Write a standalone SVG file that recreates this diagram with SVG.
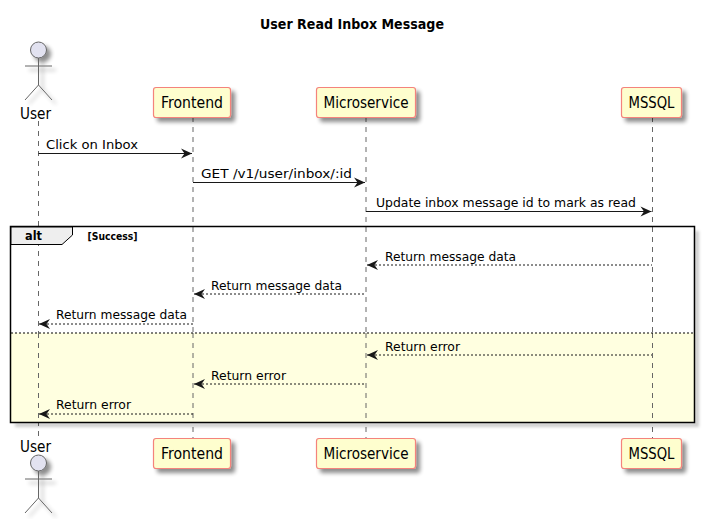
<svg xmlns="http://www.w3.org/2000/svg" width="705" height="519" viewBox="0 0 705 519">
<style>
text{font-family:"DejaVu Sans","Liberation Sans",sans-serif;fill:#000}
.m{font-size:13px}
.p{font-size:15px}
.box{fill:#FEFECE;stroke:#F4837B;stroke-width:1.2}
.act{fill:none;stroke:#666;stroke-width:1}
.life{stroke:#666;stroke-width:1;stroke-dasharray:5 5;fill:none}
.s{stroke:#181818;stroke-width:1;fill:none}
.d{stroke:#181818;stroke-width:1;stroke-dasharray:2 2;fill:none}
</style>
<defs>
<filter id="sh" x="-30%" y="-30%" width="170%" height="170%"><feGaussianBlur in="SourceAlpha" stdDeviation="2"/><feOffset dx="4" dy="4"/><feComponentTransfer><feFuncA type="linear" slope="0.45"/></feComponentTransfer><feMerge><feMergeNode/><feMergeNode in="SourceGraphic"/></feMerge></filter>
<filter id="fs" x="-5%" y="-5%" width="110%" height="110%"><feGaussianBlur stdDeviation="1.500"/></filter>
<marker id="ar" markerUnits="userSpaceOnUse" markerWidth="14" markerHeight="12" refX="12" refY="6" orient="auto"><path d="M1 1 L12 6 L1 11 L4.500 6Z" fill="#181818"/></marker>
<marker id="al" markerUnits="userSpaceOnUse" markerWidth="14" markerHeight="12" refX="1" refY="6" orient="auto"><path d="M12 1 L1 6 L12 11 L8.500 6Z" fill="#181818"/></marker>
</defs>
<text x="352" y="29" text-anchor="middle" font-size="14" font-weight="bold" textLength="184" lengthAdjust="spacingAndGlyphs">User Read Inbox Message</text>
<g id="lifelines">
<path class="life" d="M38.500 121V438"/>
<path class="life" d="M193 117V438"/>
<path class="life" d="M366 117V438"/>
<path class="life" d="M652.500 117V438"/>
</g>
<g id="alt-frame">
<path d="M15 427H699V231H695V423H15Z" fill="#000" fill-opacity="0.2" filter="url(#fs)"/>
<rect x="11" y="333" width="683" height="89" fill="#FFFFE0"/>
<path class="life" d="M38.500 333V422M193 333V422M366 333V422M652.500 333V422"/>
<rect x="10.500" y="226.500" width="684" height="196" fill="none" stroke="#000" stroke-width="1.500"/>
<path d="M11 227H72.500V235L62 244.500H11Z" fill="#EEE" stroke="#000" stroke-width="1"/>
<text x="25" y="240" font-size="13" font-weight="bold" textLength="17" lengthAdjust="spacingAndGlyphs">alt</text>
<text x="87.500" y="240" font-size="10" font-weight="bold" textLength="50" lengthAdjust="spacingAndGlyphs">[Success]</text>
<path d="M11 333H694" stroke="#000" stroke-width="1" stroke-dasharray="2 2"/>
</g>
<g id="connectors">
<path class="s" marker-end="url(#ar)" d="M38.500 153.500H192"/>
<text class="m" x="46" y="149" textLength="92" lengthAdjust="spacingAndGlyphs">Click on Inbox</text>
<path class="s" marker-end="url(#ar)" d="M193 182.500H365"/>
<text class="m" x="201" y="178" textLength="151" lengthAdjust="spacingAndGlyphs">GET /v1/user/inbox/:id</text>
<path class="s" marker-end="url(#ar)" d="M366 211.500H651.500"/>
<text class="m" x="376" y="207" textLength="260" lengthAdjust="spacingAndGlyphs">Update inbox message id to mark as read</text>
<path class="d" marker-start="url(#al)" d="M367 265H652"/>
<text class="m" x="385" y="261" textLength="131" lengthAdjust="spacingAndGlyphs">Return message data</text>
<path class="d" marker-start="url(#al)" d="M194 294H366"/>
<text class="m" x="211" y="290" textLength="131" lengthAdjust="spacingAndGlyphs">Return message data</text>
<path class="d" marker-start="url(#al)" d="M39 324H193"/>
<text class="m" x="56" y="319" textLength="131" lengthAdjust="spacingAndGlyphs">Return message data</text>
<path class="d" marker-start="url(#al)" d="M367 355H652"/>
<text class="m" x="385" y="351" textLength="75" lengthAdjust="spacingAndGlyphs">Return error</text>
<path class="d" marker-start="url(#al)" d="M194 384H366"/>
<text class="m" x="211" y="380" textLength="75" lengthAdjust="spacingAndGlyphs">Return error</text>
<path class="d" marker-start="url(#al)" d="M39 414H193"/>
<text class="m" x="56" y="409" textLength="75" lengthAdjust="spacingAndGlyphs">Return error</text>
</g>
<g id="user-top">
<g filter="url(#sh)"><circle cx="38.500" cy="50" r="8" fill="#E2E2F0" stroke="#666"/><path class="act" d="M38.500 58V85M25 66H52M38.500 85L25 100M38.500 85L52 100"/></g>
<text class="p" x="20" y="119" textLength="31" lengthAdjust="spacingAndGlyphs">User</text>
</g>
<g id="frontend-top">
<rect class="box" x="153.500" y="87.500" width="77" height="30" rx="2.500" filter="url(#sh)"/>
<text class="p" x="161" y="108" textLength="62" lengthAdjust="spacingAndGlyphs">Frontend</text>
</g>
<g id="microservice-top">
<rect class="box" x="316.500" y="87.500" width="99" height="30" rx="2.500" filter="url(#sh)"/>
<text class="p" x="323.500" y="108" textLength="85" lengthAdjust="spacingAndGlyphs">Microservice</text>
</g>
<g id="mssql-top">
<rect class="box" x="621.500" y="87.500" width="60" height="30" rx="2.500" filter="url(#sh)"/>
<text class="p" x="628.500" y="108" textLength="46" lengthAdjust="spacingAndGlyphs">MSSQL</text>
</g>
<g id="user-bottom">
<text class="p" x="20" y="452" textLength="31" lengthAdjust="spacingAndGlyphs">User</text>
<g filter="url(#sh)"><circle cx="38.500" cy="463" r="8" fill="#E2E2F0" stroke="#666"/><path class="act" d="M38.500 471V498M25 479H52M38.500 498L25 513M38.500 498L52 513"/></g>
</g>
<g id="frontend-bottom">
<rect class="box" x="153.500" y="438.500" width="77" height="30" rx="2.500" filter="url(#sh)"/>
<text class="p" x="161" y="459" textLength="62" lengthAdjust="spacingAndGlyphs">Frontend</text>
</g>
<g id="microservice-bottom">
<rect class="box" x="316.500" y="438.500" width="99" height="30" rx="2.500" filter="url(#sh)"/>
<text class="p" x="323.500" y="459" textLength="85" lengthAdjust="spacingAndGlyphs">Microservice</text>
</g>
<g id="mssql-bottom">
<rect class="box" x="621.500" y="438.500" width="60" height="30" rx="2.500" filter="url(#sh)"/>
<text class="p" x="628.500" y="459" textLength="46" lengthAdjust="spacingAndGlyphs">MSSQL</text>
</g>
</svg>
